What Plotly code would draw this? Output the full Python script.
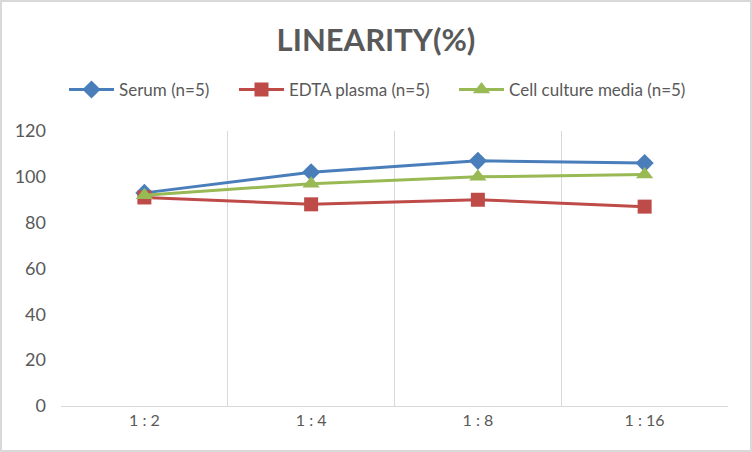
import plotly.graph_objects as go

dilutions = ["1 : 2", "1 : 4", "1 : 8", "1 : 16"]
serum = [93, 102, 107, 106]
edta_plasma = [91, 88, 90, 87]
cell_culture = [92, 97, 100, 101]

series = [
    ("Serum (n=5)", serum, "#4A7EBB", "diamond", 14, "legend", 64),
    ("EDTA plasma (n=5)", edta_plasma, "#BE4B48", "square", 14, "legend2", 234),
    ("Cell culture media (n=5)", cell_culture, "#98B954", "triangle-up", 15, "legend3", 454),
]

font_main = "Lato, Open Sans, sans-serif"

fig = go.Figure()
legends = {}
for name, vals, color, symbol, size, leg, left_px in series:
    fig.add_trace(go.Scatter(
        x=dilutions, y=vals, name=name, mode="lines+markers",
        line=dict(color=color, width=3),
        marker=dict(symbol=symbol, size=size, color=color),
        legend=leg,
    ))
    legends[leg] = dict(orientation="h", xref="container", x=left_px / 752, xanchor="left",
                        yref="container", y=0.801, yanchor="middle",
                        font=dict(size=17, color="#595959"), itemwidth=45,
                        bgcolor="rgba(0,0,0,0)")

fig.update_layout(
    width=752, height=452,
    margin=dict(l=61, r=24, t=131, b=46, autoexpand=False),
    paper_bgcolor="white", plot_bgcolor="white",
    font=dict(family=font_main, color="#595959", size=16),
    title=dict(text="<b>LINEARITY(%)</b>", x=0.5, xanchor="center",
               y=0.911, yanchor="middle",
               font=dict(size=31, color="#595959", family=font_main)),
    showlegend=True,
    **legends,
)
fig.update_xaxes(
    type="category", tickson="boundaries", range=[-0.5, 3.5],
    showgrid=True, gridcolor="#d9d9d9", gridwidth=1,
    showline=True, linecolor="#d9d9d9", linewidth=1,
    ticks="", tickfont=dict(size=16, color="#595959"),
    zeroline=False, automargin=False,
)
fig.update_yaxes(
    range=[0, 120], dtick=20, showgrid=False, zeroline=False,
    showline=False, ticks="", ticklabelstandoff=14,
    tickfont=dict(size=18, color="#595959"), automargin=False,
)
# light frame around the whole chart
fig.add_shape(type="rect", xref="paper", yref="paper",
              x0=(1 - 61) / 667, x1=(751 - 61) / 667,
              y0=(406 - 451) / 275, y1=(406 - 1) / 275,
              line=dict(color="#d9d9d9", width=2))

# page body has a default 8px margin; drop it so the figure fills the window
fig.write_html("out.html", config={"displayModeBar": False},
               post_script="document.body.style.margin='0';")
